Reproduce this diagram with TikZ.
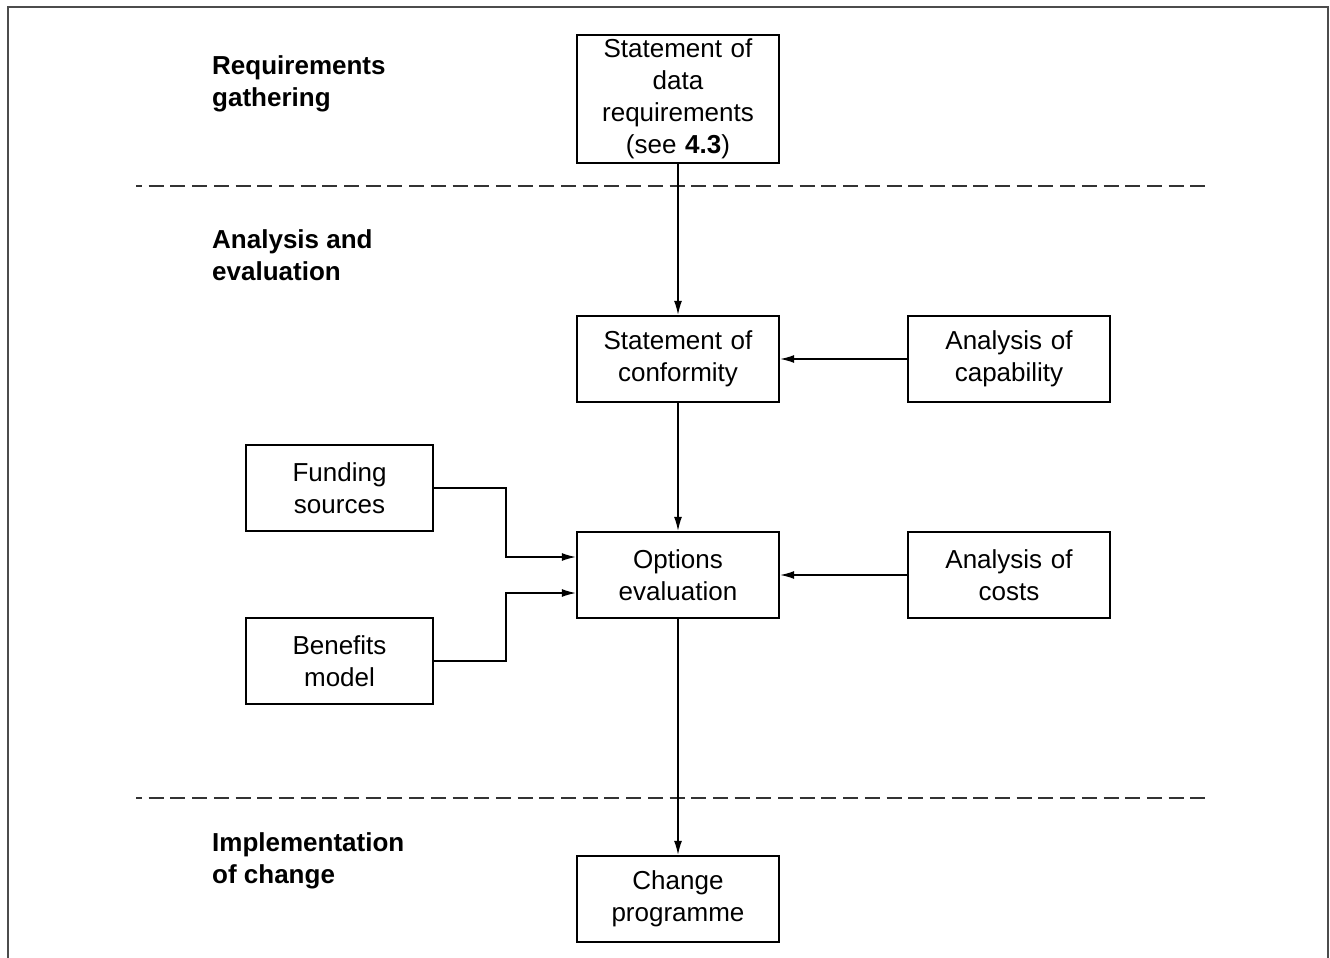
\documentclass[tikz,border=0pt]{standalone}
\usepackage{fontspec}
\setmainfont{Liberation Sans}
\usetikzlibrary{calc,arrows.meta}
\tikzset{
  stagebox/.style={draw, line width=2.4pt, minimum width=202pt, minimum height=86pt, inner sep=0pt, text width=196pt, align=center},
  stagelabel/.style={anchor=west, inner sep=0pt, align=left, font=\fontsize{26}{32}\selectfont\bfseries},
  flow/.style={line width=1.3pt, -{Latex[length=14pt,width=8pt]}},
  phase/.style={line width=1.6pt, black!80, dash pattern=on 15pt off 6.7pt, dash phase=9pt}
}

\begin{document}
\begin{tikzpicture}[x=1pt, y=-1pt, font=\fontsize{26}{32}\selectfont]
			%%%%% START %%%%%
			\useasboundingbox (0, 0) rectangle (1330, 958);
			
			\draw[line width=1.5pt, black!70] (8, 958) -- (8, 7) -- (1328, 7) -- (1328, 958);
			
			\draw[phase] (136, 186) -- (1205, 186);
			\draw[phase] (136, 798) -- (1205, 798);
			
			\node[stagelabel] (gathering) at (212, 84) {Requirements\\gathering};
			\node[stagelabel] (evaluation) at (212, 255) {Analysis and\\evaluation};
			\node[stagelabel] (implement) at (212, 861) {Implementation\\of change};
			
			\node[stagebox, minimum height=128pt] (datareq) at (678, 99) {Statement of\\data\\requirements\\(see \textbf{4.3})};
			\node[stagebox] (conformity) at (678, 359) {Statement of\\conformity};
			\node[stagebox] (capability) at (1009, 359) {Analysis of\\capability};
			\node[stagebox, minimum width=187pt, text width=180pt] (funding) at (339.5, 488) {Funding\\sources};
			\node[stagebox] (options) at (678, 575) {Options\\evaluation};
			\node[stagebox] (costs) at (1009, 575) {Analysis of\\costs};
			\node[stagebox, minimum width=187pt, text width=180pt] (benefits) at (339.5, 661) {Benefits\\model};
			\node[stagebox] (change) at (678, 899) {Change\\programme};
			
			\coordinate (fundin) at ($(options.west)+(0, -18)$);
			\coordinate (benefin) at ($(options.west)+(0, 18)$);
			
			\draw[flow] (datareq) -- (conformity);
			\draw[flow] (capability) -- (conformity);
			\draw[flow] (conformity) -- (options);
			\draw[flow] (costs) -- (options);
			\draw[flow] (funding.east) -| (506, 557) -- (fundin);
			\draw[flow] (benefits.east) -| (506, 593) -- (benefin);
			\draw[flow] (options) -- (change);
			
			%%%%% END %%%%%
		\end{tikzpicture}
\end{document}
